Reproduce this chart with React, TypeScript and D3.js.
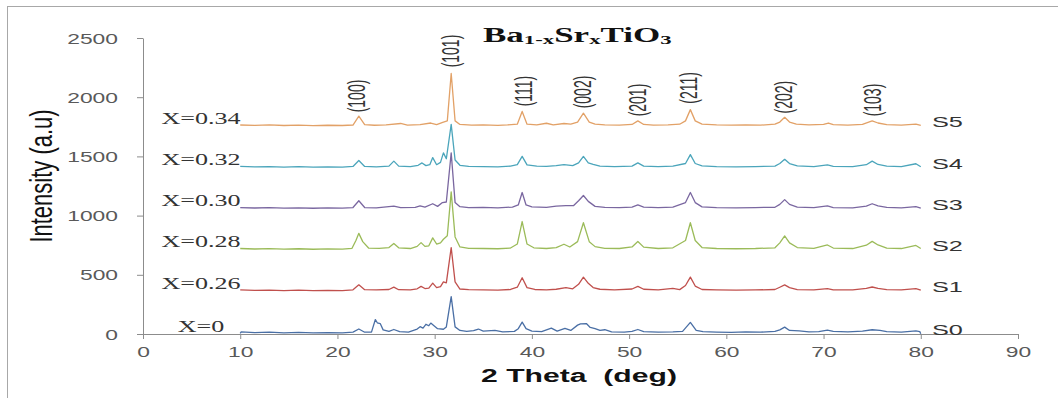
import React, { useEffect, useRef } from 'react';
import * as d3 from 'd3';

// axis ticks
const xTicks = [0, 10, 20, 30, 40, 50, 60, 70, 80, 90];
const yTicks = [0, 500, 1000, 1500, 2000, 2500];

// samples, bottom to top
const sampleNames = ['S0', 'S1', 'S2', 'S3', 'S4', 'S5'];
const compositions = ['X=0', 'X=0.26', 'X=0.28', 'X=0.30', 'X=0.32', 'X=0.34'];
const baselines = [8, 370, 720, 1065, 1412, 1762];
const colors = ['#4a6fa5', '#c0504d', '#9bbb59', '#7a67a0', '#4ba5bb', '#e2a167'];

// [2theta, intensity]
const s0 = [[10,6],[10.1,18],[11.5,12],[13,15],[14.5,10],[16,14],[17.5,9],[19,12],[20.5,10],[21.6,16],[22.2,42],[22.8,15],[23.5,16],[23.9,122],[24.1,95],[24.4,88],[24.7,35],[25.3,22],[25.8,38],[26.4,20],[27.3,16],[28.2,42],[28.5,62],[28.8,50],[29.1,82],[29.4,70],[29.6,92],[29.9,72],[30.3,45],[30.9,40],[31.2,60],[31.7,315],[32.1,60],[32.6,30],[33.3,22],[34.0,28],[34.5,42],[35,24],[36.2,30],[37,18],[38.2,22],[38.6,45],[39.0,100],[39.4,45],[40.0,25],[41.0,20],[42.0,50],[42.6,24],[43.4,48],[44.0,30],[44.7,75],[45.0,86],[45.6,88],[46.0,55],[46.5,45],[47.0,30],[47.5,36],[48.2,18],[49.5,16],[50.3,22],[50.9,38],[51.5,20],[53,16],[54.5,18],[55.5,22],[56.3,98],[56.9,30],[57.6,20],[59,16],[60.5,14],[62,18],[63.5,15],[65,22],[65.5,35],[66.0,58],[66.5,30],[67.5,26],[68.5,18],[69.5,20],[70.4,32],[71,22],[72.5,18],[74,25],[75.0,36],[75.8,30],[76.5,20],[78,16],[79.5,26],[79.9,20],[80,2]];
const s1 = [[10,372],[11.5,368],[13,371],[14.5,367],[16,370],[17.5,366],[19,369],[20.5,367],[21.6,373],[22.2,415],[22.8,374],[24,372],[25.3,376],[25.8,396],[26.3,374],[27.5,372],[28.2,382],[28.6,402],[29.0,384],[29.4,388],[29.8,430],[30.2,392],[30.6,400],[30.9,440],[31.2,432],[31.7,730],[32.1,440],[32.6,380],[33.5,374],[35,372],[36.5,370],[37.8,376],[38.5,395],[39.0,475],[39.5,392],[40.3,376],[41.5,372],[42.5,378],[43.5,392],[44.2,382],[44.8,420],[45.3,480],[45.8,428],[46.3,392],[47,378],[48.5,372],[50.3,380],[50.9,402],[51.5,378],[53,372],[54.5,385],[55.2,375],[55.8,410],[56.3,480],[56.8,405],[57.5,376],[59,372],[61,370],[63,372],[65,376],[65.5,395],[66.0,415],[66.5,392],[67.3,375],[69,372],[70.4,384],[71,372],[73,372],[74.4,385],[75.0,397],[75.6,385],[76.5,374],[78,372],[79.5,383],[80,370]];
const s2 = [[10,722],[11.5,718],[13,721],[14.5,717],[16,720],[17.5,716],[19,719],[20.5,717],[21.5,724],[21.9,790],[22.2,850],[22.6,780],[23.2,726],[24.3,724],[25.3,730],[25.8,765],[26.3,728],[27.5,722],[28.2,740],[28.6,772],[29.0,740],[29.4,745],[29.8,812],[30.2,760],[30.6,770],[30.9,800],[31.3,830],[31.7,1200],[32.1,820],[32.6,735],[33.5,724],[35,722],[36.5,720],[37.8,726],[38.5,760],[39.0,950],[39.5,760],[40.2,728],[41.5,722],[42.5,730],[43.3,758],[43.9,735],[44.7,780],[45.3,940],[45.9,780],[46.5,738],[47.5,724],[49,722],[50.3,735],[50.9,782],[51.5,734],[53,722],[54.5,728],[55.8,790],[56.3,940],[56.8,790],[57.5,730],[59,722],[61,720],[63,722],[65,728],[65.5,770],[66.0,828],[66.5,770],[67.3,730],[69,724],[70.4,752],[71,726],[73,722],[74.4,750],[75.0,782],[75.6,752],[76.5,726],[78,722],[79.5,748],[80,722]];
const s3 = [[10,1068],[11.5,1064],[13,1067],[14.5,1063],[16,1066],[17.5,1062],[19,1065],[20.5,1063],[21.6,1068],[22.2,1125],[22.8,1068],[24,1066],[25.8,1080],[26.5,1068],[28,1070],[28.5,1082],[29,1072],[29.8,1100],[30.3,1078],[30.8,1110],[31.2,1115],[31.7,1530],[32.1,1110],[32.6,1075],[33.5,1068],[35,1070],[36.5,1066],[38,1072],[38.6,1090],[39.0,1195],[39.4,1090],[40,1074],[41.5,1070],[42.5,1080],[43.5,1084],[44.3,1085],[44.8,1125],[45.3,1170],[45.8,1120],[46.5,1078],[47.5,1070],[49,1068],[50.3,1072],[50.9,1090],[51.5,1072],[53,1068],[54.5,1072],[55.8,1110],[56.3,1195],[56.8,1110],[57.5,1074],[59,1068],[61,1066],[63,1068],[65,1070],[65.5,1095],[66.0,1135],[66.5,1095],[67.3,1072],[69,1068],[70.4,1082],[71,1068],[73,1066],[74.4,1080],[75.0,1100],[75.6,1082],[76.5,1070],[78,1066],[79.5,1075],[80,1064]];
const s4 = [[10,1415],[11.5,1411],[13,1414],[14.5,1410],[16,1413],[17.5,1409],[19,1412],[20.5,1410],[21.6,1415],[22.2,1465],[22.8,1415],[24,1412],[25.3,1418],[25.8,1460],[26.3,1418],[27.5,1414],[28.3,1425],[28.7,1445],[29.1,1422],[29.5,1430],[29.8,1490],[30.2,1430],[30.6,1450],[30.9,1530],[31.2,1480],[31.7,1770],[32.1,1470],[32.6,1425],[33.5,1416],[35,1414],[36.5,1412],[37.8,1418],[38.5,1430],[39.0,1500],[39.5,1428],[40.5,1418],[41.5,1416],[42.5,1422],[43.3,1430],[44.2,1422],[44.8,1445],[45.3,1500],[45.8,1445],[46.3,1432],[47,1418],[48.5,1414],[50.3,1418],[50.9,1445],[51.5,1418],[53,1414],[54.5,1418],[55.8,1440],[56.3,1515],[56.8,1440],[57.5,1420],[59,1414],[61,1412],[63,1414],[65,1418],[65.5,1440],[66.0,1475],[66.5,1440],[67.3,1420],[69,1414],[70.4,1428],[71,1416],[73,1414],[74.4,1430],[75.0,1460],[75.6,1432],[76.5,1418],[78,1414],[79.5,1438],[80,1412]];
const s5 = [[10,1765],[11.5,1762],[13,1766],[14.5,1761],[16,1764],[17.5,1760],[19,1763],[20.5,1761],[21.6,1765],[22.2,1840],[22.8,1768],[23.8,1763],[25,1766],[26.5,1778],[27.2,1764],[28.5,1768],[29.6,1782],[30.2,1768],[30.9,1790],[31.3,1800],[31.7,2200],[32.1,1800],[32.6,1770],[33.8,1764],[35,1766],[36.5,1762],[37.5,1766],[38.5,1772],[39.0,1880],[39.5,1772],[40.5,1766],[41.5,1780],[42.2,1766],[43.3,1778],[44.0,1772],[44.7,1790],[45.3,1865],[45.9,1790],[46.5,1772],[47.5,1766],[49,1764],[50.3,1770],[50.9,1800],[51.5,1770],[52.5,1764],[54,1766],[55.2,1772],[55.8,1800],[56.3,1895],[56.8,1800],[57.5,1772],[59,1766],[60.5,1764],[62,1766],[63.5,1764],[65,1772],[65.5,1790],[66.0,1830],[66.5,1790],[67.2,1772],[68.5,1766],[70,1770],[70.5,1782],[71,1768],[72.5,1764],[74,1770],[74.5,1785],[75.0,1800],[75.6,1782],[76.5,1768],[78,1764],[79.5,1772],[80,1762]];
const patterns = [s0, s1, s2, s3, s4, s5];

// Miller index labels
const peakLabels = ['(100)', '(101)', '(111)', '(002)', '(201)', '(211)', '(202)', '(103)'];
const peakTheta = [21.9, 31.6, 39.1, 45.2, 50.8, 56.1, 65.8, 75.0];
const peakLabelY = [2010, 2390, 2052, 2044, 1976, 2078, 2001, 1976];

const SX = 1.63; // the picture is stretched sideways
const sans = '"Liberation Sans", Arial, sans-serif';
const serif = '"Liberation Serif", "Times New Roman", serif';

const App = () => {
  const xAxisRef = useRef<SVGGElement>(null);
  const yAxisRef = useRef<SVGGElement>(null);

  const x = d3.scaleLinear().domain([0, 90]).range([143, 1018]);
  const y = d3.scaleLinear().domain([0, 2500]).range([334, 38]);
  const line = d3.line<number[]>().x(d => x(d[0])).y(d => y(d[1]));

  useEffect(() => {
    const gx = d3.select(xAxisRef.current);
    gx.call(d3.axisBottom(x).tickValues(xTicks).tickSize(5).tickSizeOuter(0).tickFormat(d3.format('d')));
    gx.attr('font-family', sans).attr('font-size', 14);
    gx.select('.domain').attr('stroke', '#8c8c8c');
    gx.selectAll('.tick line').attr('stroke', '#8c8c8c');
    gx.selectAll('.tick text')
      .attr('fill', '#595959')
      .attr('y', 23)
      .attr('dy', 0)
      .attr('transform', `scale(${SX},1)`);

    const gy = d3.select(yAxisRef.current);
    gy.call(d3.axisLeft(y).tickValues(yTicks).tickSize(6).tickSizeOuter(0).tickFormat(d3.format('d')));
    gy.attr('font-family', sans).attr('font-size', 14);
    gy.select('.domain').attr('stroke', '#8c8c8c');
    gy.selectAll('.tick line').attr('stroke', '#8c8c8c');
    gy.selectAll('.tick text')
      .attr('fill', '#595959')
      .attr('x', -25 / SX)
      .attr('dy', '0.36em')
      .attr('transform', `scale(${SX},1)`);
  }, []);

  return (
    <svg width={1058} height={398} style={{ position: 'absolute', left: 0, top: 0, background: '#fff' }}>
      <rect x={7.5} y={6.5} width={1200} height={600} fill="#fff" stroke="#a8a8a8" />

      <g ref={xAxisRef} transform={`translate(0,${y(0)})`} />
      <g ref={yAxisRef} transform={`translate(${x(0)},0)`} />

      {patterns.map((p, i) => (
        <path key={sampleNames[i]} d={line(p) || ''} fill="none" stroke={colors[i]} strokeWidth={1.3} strokeLinejoin="round" />
      ))}

      {compositions.map((c, i) => (
        <text key={c} transform={`translate(201,${y(baselines[i]) - 1.5}) scale(${SX},1)`}
          textAnchor="middle" fontFamily={serif} fontSize={16} fill="#333">{c}</text>
      ))}

      {sampleNames.map((s, i) => (
        <text key={s} transform={`translate(932,${y(baselines[i]) + 2}) scale(${SX},1)`}
          fontFamily={sans} fontSize={15.5} fill="#333">{s}</text>
      ))}

      {peakLabels.map((l, i) => (
        <text key={l} transform={`translate(${x(peakTheta[i])},${y(peakLabelY[i])}) scale(1.75,1) rotate(-90)`}
          textAnchor="middle" dy="0.36em" fontFamily={sans} fontSize={14} fill="#333">{l}</text>
      ))}

      <text transform={`translate(483,42) scale(1.75,1)`} fontFamily={serif} fontWeight="bold" fontSize={20} fill="#111">
        Ba<tspan fontSize={13} dy={2}>1-x</tspan><tspan dy={-2}>Sr</tspan><tspan fontSize={13} dy={2}>x</tspan><tspan dy={-2}>TiO</tspan><tspan fontSize={13} dy={2}>3</tspan>
      </text>

      <text transform={`translate(579,382) scale(${SX},1)`} textAnchor="middle" fontFamily={sans} fontWeight="bold"
        fontSize={18.5} fill="#111" style={{ whiteSpace: 'pre' }}>{'2 Theta  (deg)'}</text>

      <text transform={`translate(52,176) scale(1.45,1) rotate(-90)`} textAnchor="middle" fontFamily={sans}
        fontSize={22} fill="#111">Intensity (a.u)</text>
    </svg>
  );
};

export default App;
